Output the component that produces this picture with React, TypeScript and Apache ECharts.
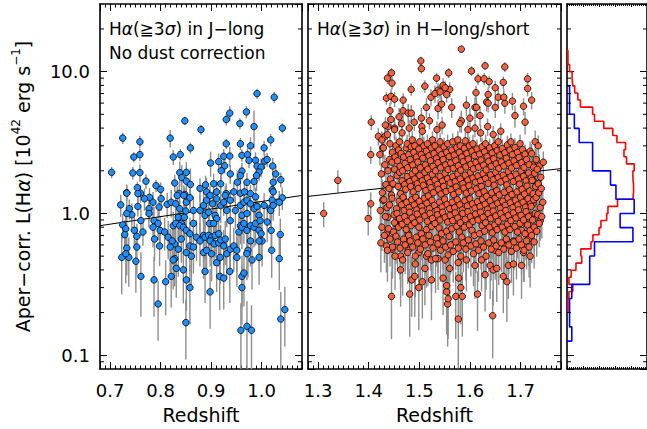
import { useEffect, useRef } from "react";
import * as echarts from "echarts";

// [redshift, L(Ha) in 1e42 erg/s, error in %]
const blueJ: number[][] = [
  [0.991,7.0,8],[1.025,6.6,9],[0.848,4.5,7],[1.041,4.0,8],[0.880,3.9,8],[0.937,5.1,12],[0.930,4.6,9],[0.970,5.2,10],[0.985,4.1,30],[0.957,4.3,9],
  [0.725,3.4,9],[0.759,3.2,10],[0.819,3.4,14],[0.759,2.6,10],[0.747,2.5,8],[0.859,2.9,9],[0.825,2.5,12],[0.839,2.6,9],[0.930,3.1,8],[0.958,3.1,10],
  [0.978,3.0,15],[1.018,3.3,10],[1.005,2.9,12],[0.703,1.95,9],[0.745,1.93,10],[0.759,1.94,14],[0.771,1.69,12],[0.754,1.52,10],[0.760,1.39,14],[0.733,1.40,12],
  [0.791,1.57,10],[0.800,1.48,12],[0.828,1.64,14],[0.838,1.94,20],[0.851,1.95,18],[0.842,1.79,22],[0.851,1.69,15],[0.837,1.38,16],[0.848,1.36,12],[0.859,1.60,30],
  [0.899,2.27,20],[0.915,2.32,14],[0.925,2.53,12],[0.927,2.17,12],[0.920,2.0,15],[0.937,2.54,16],[0.961,1.99,14],[0.958,1.85,12],[0.961,2.57,10],[0.972,2.6,11],
  [0.975,2.37,12],[0.988,2.37,14],[0.991,2.16,12],[0.999,2.12,15],[0.995,1.96,14],[1.006,2.34,12],[1.011,2.4,11],[1.022,2.16,14],[1.028,1.9,13],[1.023,1.66,12],
  [1.038,1.73,12],[1.021,1.47,14],[0.938,1.9,15],[0.952,1.66,20],[0.971,1.66,16],[0.985,1.68,14],[0.990,1.85,22],[0.889,1.59,16],[0.905,1.62,18],[0.919,1.62,14],
  [0.878,1.5,18],[0.891,1.42,25],[0.898,1.34,16],[0.911,1.42,20],[0.930,1.38,18],[0.945,1.42,16],[0.958,1.39,22],[0.966,1.42,18],[0.978,1.38,15],[0.988,1.31,16],
  [0.733,1.39,15],[0.755,1.38,14],[0.721,1.15,18],[0.738,1.08,16],[0.755,1.12,15],[0.743,0.98,20],[0.733,1.0,18],[0.761,0.89,22],[0.725,0.83,20],[0.731,0.78,24],
  [0.729,0.71,26],[0.753,0.69,22],[0.748,0.76,25],[0.765,0.74,20],[0.777,1.08,18],[0.777,1.0,20],[0.797,1.11,16],[0.801,1.27,18],[0.813,1.16,20],[0.821,1.2,22],
  [0.830,1.17,25],[0.838,1.08,20],[0.835,0.94,30],[0.841,0.85,25],[0.847,0.94,28],[0.850,1.04,22],[0.833,1.34,16],[0.846,1.34,18],[0.851,1.2,20],[0.858,1.29,16],
  [0.865,1.05,25],[0.878,1.05,30],[0.885,1.14,25],[0.888,0.97,22],[0.895,1.02,28],[0.897,0.85,30],[0.891,1.24,20],[0.903,1.17,22],[0.911,1.27,18],[0.919,1.14,25],
  [0.925,1.2,20],[0.928,1.34,16],[0.938,1.24,18],[0.908,0.97,30],[0.911,0.92,26],[0.905,0.85,28],[0.787,0.89,25],[0.795,0.85,24],[0.785,0.8,28],[0.799,0.76,26],
  [0.788,0.66,30],[0.798,0.59,28],[0.808,0.74,26],[0.815,0.68,30],[0.825,0.82,25],[0.830,0.85,28],[0.838,0.82,24],[0.845,0.8,30],[0.851,0.76,28],[0.858,0.72,30],
  [0.865,0.85,26],[0.885,0.7,35],[0.888,0.68,30],[0.895,0.7,28],[0.901,0.68,32],[0.908,0.7,30],[0.915,0.72,28],[0.898,0.64,34],[0.906,0.61,30],[0.915,0.62,32],
  [0.919,0.65,28],[0.925,0.59,30],[0.928,0.66,34],[0.885,0.53,35],[0.891,0.55,32],[0.901,0.52,36],[0.911,0.45,38],[0.918,0.49,35],[0.931,0.52,32],[0.938,0.56,30],
  [0.945,0.59,34],[0.951,0.55,30],[0.955,0.74,28],[0.958,0.82,26],[0.961,0.8,30],[0.965,0.85,28],[0.971,0.76,30],[0.978,0.82,26],[0.985,0.8,28],[0.988,0.85,30],
  [0.995,0.76,32],[0.999,0.72,30],[1.001,0.64,34],[0.995,0.64,30],[0.978,0.64,34],[0.973,0.55,36],[0.981,0.47,38],[0.995,0.49,36],[0.971,0.52,35],[0.951,0.49,38],
  [0.937,0.39,40],[0.917,0.36,42],[0.925,0.35,40],[0.961,0.36,40],[0.961,0.3,45],[0.965,0.38,42],[0.898,0.28,45],[0.888,0.39,40],[0.845,0.4,42],[0.851,0.34,40],
  [0.858,0.3,45],[0.831,0.41,38],[0.828,0.48,36],[0.825,0.47,38],[0.821,0.36,40],[0.810,0.33,42],[0.795,0.23,45],[0.787,0.34,45],[0.761,0.36,48],[0.751,0.46,40],
  [0.737,0.49,38],[0.723,0.49,45],[0.733,0.57,36],[0.753,0.58,36],[0.731,0.52,38],[0.850,0.17,45],[0.959,0.15,55],[0.971,0.16,50],[0.980,0.15,50],[1.038,0.18,55],
  [1.046,0.21,45],[1.035,0.48,40],[1.037,0.71,30],[1.020,0.55,36],[1.019,0.76,30],[1.017,1.08,24],[1.021,1.24,20],[1.041,1.29,18],[1.023,1.42,16],[1.011,0.87,28],
  [1.018,1.05,22],[0.858,0.59,34],[0.861,0.5,38],[0.851,0.53,35],[0.835,0.56,36],[0.828,0.61,34],[0.823,0.64,32],[0.819,0.58,34],[0.841,0.66,32],[0.865,0.58,35],
  [0.871,0.68,32],[0.878,0.64,34],[0.931,1.05,24],[0.938,0.89,28],[0.948,1.05,26],[0.958,1.14,22],[0.965,1.2,20],[0.971,1.24,20],[0.978,1.17,22],[0.961,0.97,26],
  [0.971,1.0,25],[0.985,1.08,24],[0.991,1.12,22],[0.995,0.97,25],[0.997,0.89,28],[1.005,1.14,22],[1.023,1.14,22],[1.035,1.2,20],[0.785,1.2,18],[0.778,1.3,16],
  [0.768,1.27,18],
];

// bright and faint outliers of the H-band sample
const redOut: number[][] = [
  [1.583,14.4,6],[1.503,11.9,7],[1.504,10.5,8],[1.445,9.8,8],[1.437,9.0,9],[1.446,8.3,10],[1.558,9.8,8],[1.603,10.1,8],[1.630,11.0,7],[1.669,10.8,8],
  [1.616,8.9,9],[1.628,8.9,10],[1.534,9.0,9],[1.484,7.5,10],[1.511,7.9,10],[1.547,8.0,12],[1.638,8.5,10],[1.650,7.7,12],[1.666,8.4,10],[1.612,7.1,12],
  [1.714,8.9,10],[1.714,7.6,12],[1.722,6.3,14],[1.435,6.5,10],[1.444,6.7,12],[1.451,6.4,12],[1.468,6.3,12],[1.523,6.6,14],[1.537,7.4,12],[1.560,7.5,12],
  [1.554,6.9,12],[1.531,7.0,14],[1.636,6.9,12],[1.656,6.6,14],[1.684,6.2,14],[1.405,4.4,12],[1.419,3.5,14],[1.404,2.6,14],[1.339,1.71,18],[1.442,5.3,14],
  [1.460,4.8,16],[1.468,5.3,14],[1.478,5.1,16],[1.484,5.1,14],[1.514,5.6,16],[1.504,4.7,18],[1.537,5.5,16],[1.544,5.9,14],[1.564,5.6,16],[1.593,5.8,16],
  [1.610,5.6,18],[1.633,6.1,14],[1.650,5.6,16],[1.669,6.0,16],[1.706,5.7,14],[1.689,4.9,18],[1.709,4.4,18],[1.438,4.1,16],[1.451,4.0,18],[1.600,4.7,18],
  [1.620,4.9,16],[1.583,4.5,18],[1.729,3.2,20],[1.735,3.0,18],[1.724,2.2,22],[1.737,2.16,20],[1.725,1.71,22],[1.733,1.58,24],[1.432,3.5,18],[1.428,2.9,20],
  [1.541,7.2,12],[1.551,7.7,12],[1.613,5.6,16],[1.636,6.0,14],[1.667,6.6,14],
  [1.311,1.0,20],[1.399,0.92,24],[1.404,1.17,20],[1.428,1.24,22],[1.445,0.26,50],[1.481,0.27,50],[1.577,0.18,55],[1.645,0.19,50],[1.615,0.27,45],[1.556,0.23,50],
  [1.557,0.25,48],[1.572,0.26,50],[1.585,0.26,48],[1.582,0.3,45],[1.554,0.28,50],[1.485,0.34,45],[1.491,0.36,48],[1.499,0.3,50],[1.506,0.33,45],[1.524,0.34,48],
  [1.463,0.4,45],[1.435,0.59,35],[1.446,0.56,38],[1.463,0.5,40],[1.478,0.55,40],[1.492,0.44,42],[1.511,0.41,45],[1.554,0.31,48],[1.547,0.35,45],[1.578,0.35,45],
  [1.560,0.41,42],[1.551,0.47,40],[1.577,0.45,42],[1.593,0.47,40],[1.610,0.43,42],[1.623,0.47,40],[1.630,0.37,45],[1.640,0.43,42],[1.646,0.4,44],[1.653,0.41,42],
  [1.666,0.36,45],[1.673,0.33,48],[1.676,0.43,42],[1.686,0.44,40],[1.702,0.43,42],[1.706,0.53,38],[1.719,0.5,40],[1.716,0.66,35],[1.727,0.63,35],[1.739,0.89,28],
  [1.725,1.17,24],[1.435,0.72,32],[1.438,0.94,28],[1.453,0.85,30],[1.478,0.72,32],[1.473,0.61,35],[1.524,0.47,40],[1.537,0.48,40],[1.514,0.5,40],[1.499,0.53,38],
  [1.650,0.55,38],[1.669,0.59,36],[1.686,0.64,35],[1.702,0.76,32],[1.709,0.85,30],[1.719,0.97,28],
];

// dense core of the H-band sample
const redCore: number[][] = [
  [1.424,0.62,38],[1.426,0.8,32],[1.423,1.05,26],[1.427,1.4,24],[1.425,1.9,20],[1.422,2.6,16],[1.426,3.3,15],
  [1.431,0.7,36],[1.433,0.95,30],[1.430,1.25,26],[1.434,1.6,22],[1.432,2.2,18],[1.429,2.9,16],[1.433,4.2,14],
  [1.437,0.55,40],[1.439,0.78,34],[1.436,1.1,28],[1.440,1.5,24],[1.438,2.0,20],[1.441,2.4,18],[1.437,3.6,15],
  [1.442,0.66,36],[1.441,1.15,26],[1.445,1.35,25],[1.443,1.75,22],[1.446,2.3,18],[1.442,3.1,16],[1.444,4.6,13],
  [1.447,0.58,40],[1.449,0.74,34],[1.450,0.98,30],[1.446,1.28,26],[1.448,1.62,22],[1.451,2.05,20],[1.447,2.7,16],
  [1.452,0.5,42],[1.454,0.69,36],[1.451,0.86,32],[1.455,1.08,28],[1.456,1.85,20],[1.452,2.5,17],[1.454,3.0,16],[1.451,3.9,14],
  [1.457,0.63,38],[1.459,0.8,33],[1.456,1.0,29],[1.460,1.22,26],[1.458,1.55,23],[1.461,1.95,20],[1.457,2.35,18],[1.459,2.8,16],
  [1.462,0.57,40],[1.461,0.92,31],[1.465,1.15,27],[1.463,1.38,25],[1.466,1.7,22],[1.462,2.15,19],[1.464,2.65,17],[1.461,3.2,15],[1.465,4.3,13],
  [1.467,0.47,44],[1.469,0.66,37],[1.466,0.84,33],[1.470,1.05,28],[1.468,1.3,25],[1.471,1.6,22],[1.467,2.0,20],[1.469,2.5,17],[1.466,3.7,14],
  [1.472,0.6,38],[1.474,0.77,34],[1.471,0.95,30],[1.475,1.2,26],[1.473,1.48,24],[1.476,1.82,21],[1.472,2.25,19],[1.474,2.9,16],
  [1.477,0.53,40],[1.479,0.7,36],[1.476,0.88,32],[1.480,1.1,28],[1.481,1.68,22],[1.477,2.1,19],[1.479,2.6,17],[1.476,3.1,16],[1.480,4.0,14],
  [1.482,0.64,37],[1.484,0.82,33],[1.481,1.02,29],[1.485,1.25,26],[1.483,1.55,23],[1.486,1.9,20],[1.482,2.4,18],[1.484,2.95,16],
  [1.487,0.58,39],[1.486,0.93,31],[1.490,1.15,27],[1.488,1.42,24],[1.491,1.75,21],[1.487,2.2,19],[1.489,2.7,17],[1.486,3.3,15],[1.490,4.4,13],
  [1.492,0.5,42],[1.494,0.68,37],[1.491,0.86,32],[1.495,1.06,28],[1.493,1.3,25],[1.496,1.62,22],[1.492,2.0,20],[1.494,2.5,17],[1.491,3.0,16],
  [1.497,0.62,38],[1.499,0.8,33],[1.496,0.99,29],[1.500,1.22,26],[1.498,1.5,23],[1.501,1.85,20],[1.497,2.3,18],[1.499,2.85,16],
  [1.502,0.56,40],[1.504,0.72,35],[1.501,0.9,31],[1.505,1.12,27],[1.506,1.7,22],[1.502,2.1,19],[1.504,2.6,17],[1.501,3.2,15],[1.505,4.1,14],
  [1.507,0.66,37],[1.506,1.04,29],[1.510,1.28,26],[1.508,1.58,23],[1.511,1.95,20],[1.507,2.45,18],[1.509,3.0,16],[1.506,3.8,14],
  [1.512,0.6,38],[1.514,0.77,34],[1.511,0.96,30],[1.515,1.18,27],[1.513,1.45,24],[1.516,1.78,21],[1.512,2.2,19],[1.514,2.75,17],
  [1.517,0.52,41],[1.519,0.7,36],[1.516,0.88,32],[1.520,1.08,28],[1.518,1.33,25],[1.521,1.65,22],[1.517,2.05,20],[1.519,2.55,17],[1.516,3.1,16],[1.520,4.5,13],
  [1.522,0.63,37],[1.524,0.81,33],[1.521,1.0,29],[1.525,1.24,26],[1.523,1.52,23],[1.526,1.88,20],[1.522,2.35,18],[1.524,2.9,16],
  [1.527,0.57,40],[1.526,0.92,31],[1.530,1.14,27],[1.528,1.4,24],[1.531,1.72,21],[1.527,2.15,19],[1.529,2.65,17],[1.526,3.3,15],
  [1.532,0.48,43],[1.534,0.67,37],[1.531,0.85,32],[1.535,1.05,28],[1.536,1.6,22],[1.532,2.0,20],[1.534,2.45,18],[1.531,3.0,16],[1.535,3.9,14],
  [1.537,0.61,38],[1.539,0.79,34],[1.536,0.98,30],[1.540,1.2,26],[1.538,1.48,24],[1.541,1.83,21],[1.537,2.28,18],[1.539,2.8,16],
  [1.542,0.55,40],[1.544,0.72,35],[1.541,0.9,31],[1.545,1.11,27],[1.543,1.37,25],[1.546,1.69,22],[1.542,2.1,19],[1.544,2.6,17],[1.541,3.2,15],[1.545,4.2,14],
  [1.547,0.64,37],[1.546,1.02,29],[1.550,1.26,26],[1.548,1.55,23],[1.551,1.92,20],[1.547,2.4,18],[1.549,2.95,16],
  [1.552,0.58,39],[1.554,0.75,35],[1.551,0.94,30],[1.555,1.16,27],[1.553,1.43,24],[1.556,1.76,21],[1.552,2.2,19],[1.554,2.7,17],
  [1.557,0.51,42],[1.559,0.69,36],[1.556,0.87,32],[1.560,1.08,28],[1.561,1.64,22],[1.557,2.04,20],[1.559,2.52,17],[1.556,3.1,16],
  [1.562,0.6,38],[1.564,0.78,34],[1.561,0.97,30],[1.565,1.2,26],[1.563,1.47,24],[1.566,1.82,21],[1.562,2.27,18],[1.564,2.8,16],
  [1.567,0.54,40],[1.566,0.89,31],[1.570,1.1,28],[1.568,1.36,25],[1.571,1.68,22],[1.567,2.08,20],[1.569,2.58,17],[1.566,3.2,15],
  [1.572,0.63,37],[1.574,0.81,33],[1.571,1.01,29],[1.575,1.25,26],[1.573,1.54,23],[1.576,1.9,20],[1.572,2.36,18],[1.574,2.92,16],
  [1.577,0.57,40],[1.579,0.74,35],[1.576,0.93,31],[1.580,1.15,27],[1.578,1.42,24],[1.581,1.75,21],[1.577,2.17,19],[1.579,2.7,17],[1.576,3.3,15],[1.580,4.3,13],
  [1.582,0.5,42],[1.584,0.68,37],[1.581,0.86,32],[1.585,1.06,28],[1.586,1.62,22],[1.582,2.02,20],[1.584,2.5,17],[1.581,3.0,16],
  [1.587,0.62,38],[1.589,0.8,33],[1.586,1.0,29],[1.590,1.23,26],[1.588,1.51,23],[1.591,1.86,20],[1.587,2.32,18],[1.589,2.88,16],
  [1.592,0.56,40],[1.591,0.91,31],[1.595,1.13,27],[1.593,1.39,24],[1.596,1.72,21],[1.592,2.13,19],[1.594,2.65,17],[1.591,3.25,15],
  [1.597,0.65,37],[1.599,0.83,33],[1.596,1.03,29],[1.600,1.27,26],[1.598,1.57,23],[1.601,1.94,20],[1.597,2.42,18],[1.599,3.0,16],[1.596,3.9,14],
  [1.602,0.59,39],[1.604,0.76,34],[1.601,0.95,30],[1.605,1.17,27],[1.603,1.44,24],[1.606,1.78,21],[1.602,2.22,19],[1.604,2.75,17],
  [1.607,0.52,41],[1.609,0.7,36],[1.606,0.88,32],[1.610,1.09,28],[1.611,1.66,22],[1.607,2.06,20],[1.609,2.55,17],[1.606,3.1,16],[1.610,4.0,14],
  [1.612,0.61,38],[1.611,0.99,29],[1.615,1.21,26],[1.613,1.49,24],[1.616,1.84,21],[1.612,2.29,18],[1.614,2.85,16],
  [1.617,0.55,40],[1.619,0.72,35],[1.616,0.9,31],[1.620,1.12,27],[1.618,1.38,25],[1.621,1.7,22],[1.617,2.12,19],[1.619,2.62,17],
  [1.622,0.64,37],[1.624,0.82,33],[1.621,1.02,29],[1.625,1.26,26],[1.623,1.55,23],[1.626,1.91,20],[1.622,2.38,18],[1.624,2.95,16],[1.621,3.7,14],
  [1.627,0.58,39],[1.629,0.75,35],[1.626,0.94,30],[1.630,1.16,27],[1.628,1.43,24],[1.631,1.76,21],[1.627,2.19,19],[1.629,2.72,17],
  [1.632,0.5,42],[1.631,0.86,32],[1.635,1.07,28],[1.633,1.32,25],[1.636,1.63,22],[1.632,2.03,20],[1.634,2.52,17],[1.631,3.1,16],[1.635,4.1,14],
  [1.637,0.62,38],[1.639,0.8,33],[1.636,1.0,29],[1.640,1.23,26],[1.641,1.87,20],[1.637,2.33,18],[1.639,2.9,16],
  [1.642,0.56,40],[1.644,0.73,35],[1.641,0.92,31],[1.645,1.13,27],[1.643,1.4,24],[1.646,1.73,21],[1.642,2.15,19],[1.644,2.67,17],
  [1.647,0.65,37],[1.649,0.83,33],[1.646,1.04,29],[1.650,1.28,26],[1.648,1.58,23],[1.651,1.95,20],[1.647,2.43,18],[1.649,3.0,16],[1.646,3.6,15],
  [1.652,0.59,39],[1.654,0.77,34],[1.651,0.96,30],[1.655,1.18,27],[1.653,1.45,24],[1.656,1.8,21],[1.652,2.24,19],[1.654,2.78,17],
  [1.657,0.53,41],[1.656,0.88,32],[1.660,1.09,28],[1.658,1.35,25],[1.661,1.67,22],[1.657,2.08,20],[1.659,2.58,17],[1.656,3.2,15],
  [1.662,0.62,38],[1.664,0.8,33],[1.661,1.0,29],[1.665,1.22,26],[1.666,1.86,20],[1.662,2.31,18],[1.664,2.87,16],[1.661,3.8,14],
  [1.667,0.56,40],[1.669,0.74,35],[1.666,0.93,31],[1.670,1.14,27],[1.668,1.41,24],[1.671,1.74,21],[1.667,2.16,19],[1.669,2.68,17],
  [1.672,0.66,37],[1.674,0.84,33],[1.671,1.05,29],[1.675,1.29,26],[1.673,1.59,23],[1.676,1.97,20],[1.672,2.45,18],[1.674,3.05,16],
  [1.677,0.6,38],[1.679,0.77,34],[1.676,0.97,30],[1.680,1.19,27],[1.678,1.47,24],[1.681,1.82,21],[1.677,2.26,19],[1.679,2.8,16],
  [1.682,0.54,40],[1.681,0.89,31],[1.685,1.1,28],[1.683,1.36,25],[1.686,1.68,22],[1.682,2.09,20],[1.684,2.6,17],[1.681,3.2,15],
  [1.687,0.63,37],[1.689,0.81,33],[1.686,1.01,29],[1.690,1.24,26],[1.691,1.89,20],[1.687,2.35,18],[1.689,2.92,16],
  [1.692,0.57,40],[1.694,0.74,35],[1.691,0.93,31],[1.695,1.15,27],[1.693,1.42,24],[1.696,1.75,21],[1.692,2.18,19],[1.694,2.7,17],
  [1.697,0.66,37],[1.699,0.85,33],[1.696,1.06,29],[1.700,1.3,26],[1.698,1.61,23],[1.701,1.99,20],[1.697,2.48,18],[1.699,3.1,16],
  [1.702,0.6,38],[1.701,0.97,30],[1.705,1.2,27],[1.703,1.48,24],[1.706,1.83,21],[1.702,2.28,19],[1.704,2.82,16],
  [1.707,0.55,40],[1.709,0.72,35],[1.706,0.9,31],[1.710,1.11,27],[1.708,1.37,25],[1.711,1.7,22],[1.707,2.11,19],[1.709,2.62,17],
  [1.712,0.64,37],[1.714,0.83,33],[1.711,1.03,29],[1.715,1.27,26],[1.713,1.56,23],[1.716,1.93,20],[1.712,2.4,18],
  [1.717,0.58,39],[1.719,0.76,34],[1.716,0.95,30],[1.720,1.17,27],[1.718,1.44,24],[1.721,1.78,21],[1.717,2.21,19],[1.719,2.75,17],
  [1.722,0.7,36],[1.724,0.9,31],[1.721,1.12,27],[1.725,1.38,25],[1.723,1.71,22],[1.726,2.12,19],[1.722,2.64,17],
  [1.727,0.8,33],[1.729,1.0,29],[1.726,1.25,26],[1.730,1.55,23],[1.728,1.92,20],[1.731,2.4,18],
  [1.732,0.75,34],[1.734,0.98,30],[1.731,1.3,26],[1.735,1.62,22],[1.733,2.05,20],
  [1.737,0.85,32],[1.739,1.1,28],[1.736,1.4,25],[1.740,1.8,21],
  [1.742,0.95,30],[1.744,1.2,27],[1.741,1.5,24],[1.745,2.3,19],
];

// fitted L(Ha)-z relation, end points per panel
const trendJ = [[0.68, 0.82], [1.08, 1.34]];
const trendH = [[1.28, 1.32], [1.78, 2.07]];

// histograms (log L bin edges, top to bottom)
const blueLogEdges = [0.9, 0.8, 0.7, 0.6, 0.5, 0.4, 0.3, 0.2, 0.1, 0.0, -0.1, -0.2, -0.3, -0.4, -0.5, -0.6, -0.7, -0.8, -0.9];
const blueCounts = [8, 8, 23, 38, 80, 80, 136, 153, 210, 166, 206, 86, 71, 71, 15, 8, 8, 15];
const redLogEdges = [1.15, 1.1, 1.05, 1.0, 0.95, 0.9, 0.85, 0.8, 0.75, 0.7, 0.65, 0.6, 0.55, 0.5, 0.45, 0.4, 0.35, 0.3, 0.25, 0.2,
  0.15, 0.1, 0.05, 0.0, -0.05, -0.1, -0.15, -0.2, -0.25, -0.3, -0.35, -0.4, -0.45, -0.5, -0.55, -0.6, -0.65, -0.7];
const redCounts = [3, 3, 8, 16, 18, 24, 34, 42, 80, 86, 115, 143, 156, 183, 178, 186, 210, 206, 208, 208,
  206, 158, 128, 124, 106, 100, 81, 75, 43, 46, 28, 13, 6, 18, 6, 3, 3];

const yMinorTicks = [0.09, 0.2, 0.3, 0.4, 0.5, 0.6, 0.7, 0.8, 0.9, 2, 3, 4, 5, 6, 7, 8, 9, 20];
const Y_MIN = 0.08;
const Y_MAX = 30;

const FONT = "DejaVu Sans";
const BLUE = "#1e8fff";
const RED = "#f4623f";

const frame = { show: true, onZero: false, lineStyle: { color: "#000", width: 1.6 } };
const tick = { show: true, inside: true, length: 7, lineStyle: { color: "#000", width: 1 } };

function xAx(gi: number, min: number, max: number, top: boolean): any {
  return {
    type: "value", gridIndex: gi, min, max, position: top ? "top" : "bottom",
    axisLine: frame, axisTick: tick,
    minorTick: { show: true, splitNumber: 10, length: 3.5, lineStyle: { color: "#000", width: 1 } },
    splitLine: { show: false }, minorSplitLine: { show: false },
    axisLabel: top ? { show: false } : {
      show: true, color: "#000", fontFamily: FONT, fontSize: 18, margin: 12,
      showMinLabel: false, showMaxLabel: false, formatter: (v: number) => v.toFixed(1),
    },
    name: top ? "" : "Redshift", nameLocation: "middle", nameGap: 36,
    nameTextStyle: { color: "#000", fontFamily: FONT, fontSize: 19 },
  };
}

function histX(top: boolean): any {
  return {
    type: "value", gridIndex: 2, min: 0, max: 250, interval: 50, position: top ? "top" : "bottom",
    axisLine: frame, axisTick: { ...tick, length: 3 },
    minorTick: { show: true, splitNumber: 8, length: 2, lineStyle: { color: "#000", width: 1 } },
    splitLine: { show: false }, axisLabel: { show: false },
  };
}

function yAx(gi: number, right: boolean, withName: boolean): any {
  const ax: any = {
    type: "log", logBase: 10, gridIndex: gi, min: Y_MIN, max: Y_MAX, position: right ? "right" : "left",
    axisLine: frame, axisTick: tick, minorTick: { show: false },
    splitLine: { show: false },
    axisLabel: withName ? {
      show: true, color: "#000", fontFamily: FONT, fontSize: 18, margin: 10,
      showMinLabel: false, showMaxLabel: false, formatter: (v: number) => v.toFixed(1),
    } : { show: false },
  };
  if (withName) {
    ax.name = "Aper\u2212corr. L(H{i|\u03b1}) [10{sup|42} erg s{sup|\u22121}]";
    ax.nameLocation = "middle";
    ax.nameGap = 64;
    ax.nameTextStyle = {
      color: "#000", fontFamily: FONT, fontSize: 19,
      rich: {
        i: { fontFamily: FONT, fontSize: 19, fontStyle: "italic", color: "#000" },
        sup: { fontFamily: FONT, fontSize: 12, color: "#000", verticalAlign: "top", lineHeight: 26 },
      },
    };
  }
  return ax;
}

function errSeries(data: number[][], gi: number): any {
  return {
    type: "custom", xAxisIndex: gi, yAxisIndex: gi, silent: true, z: 1, clip: true,
    data: data.map(([zz, l, e]) => [zz, l * (1 - e / 100), l * (1 + e / 100)]),
    encode: { x: 0, y: [1, 2] },
    renderItem: (_p: any, api: any) => {
      const a = api.coord([api.value(0), api.value(1)]);
      const b = api.coord([api.value(0), api.value(2)]);
      return {
        type: "line",
        shape: { x1: a[0], y1: a[1], x2: b[0], y2: b[1] },
        style: { stroke: "#8e8e8e", lineWidth: 1.4 },
      };
    },
  };
}

function minorTickSeries(gi: number, xAt: number): any {
  return {
    type: "custom", xAxisIndex: gi, yAxisIndex: gi, silent: true, z: 5,
    data: yMinorTicks.map((v) => [xAt, v]),
    renderItem: (p: any, api: any) => {
      const y = api.coord([api.value(0), api.value(1)])[1];
      const cs = p.coordSys;
      const st = { stroke: "#000", lineWidth: 1 };
      return {
        type: "group",
        children: [
          { type: "line", shape: { x1: cs.x, y1: y, x2: cs.x + 4, y2: y }, style: st },
          { type: "line", shape: { x1: cs.x + cs.width - 4, y1: y, x2: cs.x + cs.width, y2: y }, style: st },
        ],
      };
    },
  };
}

function stepPath(logEdges: number[], counts: number[]): number[][] {
  const pts: number[][] = [[0, 10 ** logEdges[0]]];
  counts.forEach((c, i) => {
    pts.push([c, 10 ** logEdges[i]], [c, 10 ** logEdges[i + 1]]);
  });
  pts.push([0, 10 ** logEdges[logEdges.length - 1]]);
  return pts;
}

function scatter(data: number[][], gi: number, color: string): any {
  return {
    type: "scatter", xAxisIndex: gi, yAxisIndex: gi, z: 3,
    data: data.map((d) => [d[0], d[1]]),
    symbol: "circle", symbolSize: 6.5,
    itemStyle: { color, borderColor: "#000", borderWidth: 0.8, opacity: 1 },
  };
}

const labelText = (text: string, left: number, top: number): any => ({
  type: "text", left, top, z: 10,
  style: {
    text, fill: "#000", fontFamily: FONT, fontSize: 17,
    rich: { i: { fontFamily: FONT, fontSize: 17, fontStyle: "italic", fill: "#000" } },
  },
});

export default function App() {
  const ref = useRef<HTMLDivElement>(null);

  useEffect(() => {
    if (!ref.current) return;
    const chart = echarts.init(ref.current, undefined, { renderer: "svg" });
    const redAll = [...redOut, ...redCore];

    chart.setOption({
      animation: false,
      backgroundColor: "#fff",
      grid: [
        { left: 100, top: 4, width: 202, height: 365, containLabel: false },
        { left: 308, top: 4, width: 253, height: 365, containLabel: false },
        { left: 567, top: 4, width: 83, height: 365, containLabel: false },
      ],
      xAxis: [
        xAx(0, 0.68, 1.08, false),
        xAx(1, 1.28, 1.78, false),
        histX(false),
        xAx(0, 0.68, 1.08, true),
        xAx(1, 1.28, 1.78, true),
        histX(true),
      ],
      yAxis: [
        yAx(0, false, true),
        yAx(1, false, false),
        yAx(2, false, false),
        yAx(0, true, false),
        yAx(1, true, false),
        yAx(2, true, false),
      ],
      graphic: [
        labelText("H{i|\u03b1}(\u22673{i|\u03c3}) in J\u2212long", 109, 20),
        labelText("No dust correction", 109, 44),
        labelText("H{i|\u03b1}(\u22673{i|\u03c3}) in H\u2212long/short", 317, 20),
      ],
      series: [
        errSeries(blueJ, 0),
        errSeries(redAll, 1),
        {
          type: "line", xAxisIndex: 0, yAxisIndex: 0, data: trendJ, symbol: "none", z: 2,
          lineStyle: { color: "#000", width: 1 }, silent: true,
        },
        {
          type: "line", xAxisIndex: 1, yAxisIndex: 1, data: trendH, symbol: "none", z: 2,
          lineStyle: { color: "#000", width: 1 }, silent: true,
        },
        scatter(blueJ, 0, BLUE),
        scatter(redAll, 1, RED),
        {
          type: "line", xAxisIndex: 2, yAxisIndex: 2, data: stepPath(redLogEdges, redCounts),
          symbol: "none", z: 3, lineStyle: { color: "#ff0000", width: 1.6 }, silent: true,
        },
        {
          type: "line", xAxisIndex: 2, yAxisIndex: 2, data: stepPath(blueLogEdges, blueCounts),
          symbol: "none", z: 3, lineStyle: { color: "#0000ff", width: 1.6 }, silent: true,
        },
        minorTickSeries(0, 0.7),
        minorTickSeries(1, 1.5),
        minorTickSeries(2, 10),
      ],
    });

    return () => {
      chart.dispose();
    };
  }, []);

  return (
    <div
      ref={ref}
      style={{ position: "absolute", left: 0, top: 0, width: 647, height: 429, background: "#fff" }}
    />
  );
}
